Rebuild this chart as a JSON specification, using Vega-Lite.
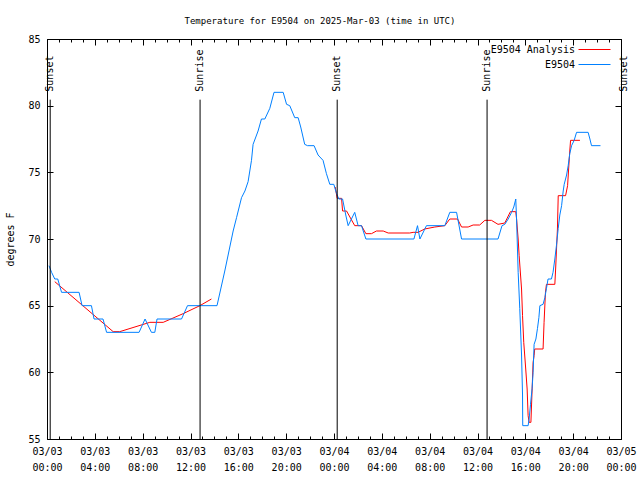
{
  "$schema": "https://vega.github.io/schema/vega-lite/v6.json",
  "width": 574,
  "height": 400,
  "autosize": {"type": "none"},
  "padding": {"left": 47, "top": 39, "right": 19, "bottom": 41},
  "background": "white",
  "title": {"text": "Temperature for E9504 on 2025-Mar-03 (time in UTC)", "frame": "group", "anchor": "middle", "dx": -14, "offset": 8},
  "config": {
    "view": {"stroke": "black", "strokeWidth": 1},
    "font": "DejaVu Sans Mono",
    "title": {"font": "DejaVu Sans Mono", "fontSize": 9, "fontWeight": "normal", "color": "black"},
    "axis": {"labelFont": "DejaVu Sans Mono", "labelFontSize": 10, "labelColor": "black", "tickColor": "black", "titleFont": "DejaVu Sans Mono", "titleFontSize": 10, "titleFontWeight": "normal", "titleColor": "black", "grid": false, "domain": false, "tickWidth": 1},
    "legend": {"orient": "none", "legendX": 542, "legendY": 5, "title": null, "symbolType": "M-3.2,0H3.2", "symbolStrokeWidth": 1, "symbolSize": 100, "labelFont": "DejaVu Sans Mono", "labelFontSize": 10, "labelColor": "black", "labelAlign": "right", "labelOffset": -25, "rowPadding": 4, "padding": 0}
  },
  "datasets": {
    "ana": [
      {"t": "2025-03-03T00:39:00Z", "v": 66.8, "s": "E9504 Analysis", "g": "a"},
      {"t": "2025-03-03T05:32:00Z", "v": 63.05, "s": "E9504 Analysis", "g": "a"},
      {"t": "2025-03-03T06:05:00Z", "v": 63.05, "s": "E9504 Analysis", "g": "a"},
      {"t": "2025-03-03T08:36:00Z", "v": 63.75, "s": "E9504 Analysis", "g": "a"},
      {"t": "2025-03-03T09:43:00Z", "v": 63.75, "s": "E9504 Analysis", "g": "a"},
      {"t": "2025-03-03T11:23:00Z", "v": 64.4, "s": "E9504 Analysis", "g": "a"},
      {"t": "2025-03-03T12:47:00Z", "v": 65.0, "s": "E9504 Analysis", "g": "a"},
      {"t": "2025-03-03T13:45:00Z", "v": 65.5, "s": "E9504 Analysis", "g": "a"},
      {"t": "2025-03-04T00:06:00Z", "v": 73.9, "s": "E9504 Analysis", "g": "b"},
      {"t": "2025-03-04T00:16:00Z", "v": 73.05, "s": "E9504 Analysis", "g": "b"},
      {"t": "2025-03-04T00:38:00Z", "v": 73.05, "s": "E9504 Analysis", "g": "b"},
      {"t": "2025-03-04T00:43:00Z", "v": 72.1, "s": "E9504 Analysis", "g": "b"},
      {"t": "2025-03-04T01:03:00Z", "v": 72.1, "s": "E9504 Analysis", "g": "b"},
      {"t": "2025-03-04T01:44:00Z", "v": 71.0, "s": "E9504 Analysis", "g": "b"},
      {"t": "2025-03-04T02:18:00Z", "v": 71.0, "s": "E9504 Analysis", "g": "b"},
      {"t": "2025-03-04T02:40:00Z", "v": 70.4, "s": "E9504 Analysis", "g": "b"},
      {"t": "2025-03-04T03:08:00Z", "v": 70.4, "s": "E9504 Analysis", "g": "b"},
      {"t": "2025-03-04T03:33:00Z", "v": 70.6, "s": "E9504 Analysis", "g": "b"},
      {"t": "2025-03-04T04:07:00Z", "v": 70.6, "s": "E9504 Analysis", "g": "b"},
      {"t": "2025-03-04T04:32:00Z", "v": 70.45, "s": "E9504 Analysis", "g": "b"},
      {"t": "2025-03-04T06:20:00Z", "v": 70.45, "s": "E9504 Analysis", "g": "b"},
      {"t": "2025-03-04T06:37:00Z", "v": 70.5, "s": "E9504 Analysis", "g": "b"},
      {"t": "2025-03-04T07:02:00Z", "v": 70.5, "s": "E9504 Analysis", "g": "b"},
      {"t": "2025-03-04T07:35:00Z", "v": 70.75, "s": "E9504 Analysis", "g": "b"},
      {"t": "2025-03-04T08:26:00Z", "v": 70.9, "s": "E9504 Analysis", "g": "b"},
      {"t": "2025-03-04T09:16:00Z", "v": 71.0, "s": "E9504 Analysis", "g": "b"},
      {"t": "2025-03-04T09:41:00Z", "v": 71.5, "s": "E9504 Analysis", "g": "b"},
      {"t": "2025-03-04T10:20:00Z", "v": 71.5, "s": "E9504 Analysis", "g": "b"},
      {"t": "2025-03-04T10:40:00Z", "v": 70.9, "s": "E9504 Analysis", "g": "b"},
      {"t": "2025-03-04T11:13:00Z", "v": 70.9, "s": "E9504 Analysis", "g": "b"},
      {"t": "2025-03-04T11:38:00Z", "v": 71.05, "s": "E9504 Analysis", "g": "b"},
      {"t": "2025-03-04T12:11:00Z", "v": 71.05, "s": "E9504 Analysis", "g": "b"},
      {"t": "2025-03-04T12:37:00Z", "v": 71.4, "s": "E9504 Analysis", "g": "b"},
      {"t": "2025-03-04T13:10:00Z", "v": 71.4, "s": "E9504 Analysis", "g": "b"},
      {"t": "2025-03-04T13:43:00Z", "v": 71.1, "s": "E9504 Analysis", "g": "b"},
      {"t": "2025-03-04T14:17:00Z", "v": 71.2, "s": "E9504 Analysis", "g": "b"},
      {"t": "2025-03-04T14:45:00Z", "v": 72.05, "s": "E9504 Analysis", "g": "b"},
      {"t": "2025-03-04T15:12:00Z", "v": 72.05, "s": "E9504 Analysis", "g": "b"},
      {"t": "2025-03-04T15:16:00Z", "v": 71.5, "s": "E9504 Analysis", "g": "b"},
      {"t": "2025-03-04T15:24:00Z", "v": 70.0, "s": "E9504 Analysis", "g": "b"},
      {"t": "2025-03-04T15:29:00Z", "v": 68.75, "s": "E9504 Analysis", "g": "b"},
      {"t": "2025-03-04T15:41:00Z", "v": 66.25, "s": "E9504 Analysis", "g": "b"},
      {"t": "2025-03-04T15:46:00Z", "v": 64.25, "s": "E9504 Analysis", "g": "b"},
      {"t": "2025-03-04T15:52:00Z", "v": 62.25, "s": "E9504 Analysis", "g": "b"},
      {"t": "2025-03-04T16:02:00Z", "v": 60.25, "s": "E9504 Analysis", "g": "b"},
      {"t": "2025-03-04T16:09:00Z", "v": 58.75, "s": "E9504 Analysis", "g": "b"},
      {"t": "2025-03-04T16:14:00Z", "v": 56.75, "s": "E9504 Analysis", "g": "b"},
      {"t": "2025-03-04T16:19:00Z", "v": 56.25, "s": "E9504 Analysis", "g": "b"},
      {"t": "2025-03-04T16:28:00Z", "v": 56.25, "s": "E9504 Analysis", "g": "b"},
      {"t": "2025-03-04T16:39:00Z", "v": 60.75, "s": "E9504 Analysis", "g": "b"},
      {"t": "2025-03-04T16:44:00Z", "v": 61.25, "s": "E9504 Analysis", "g": "b"},
      {"t": "2025-03-04T16:47:00Z", "v": 61.75, "s": "E9504 Analysis", "g": "b"},
      {"t": "2025-03-04T17:29:00Z", "v": 61.75, "s": "E9504 Analysis", "g": "b"},
      {"t": "2025-03-04T17:34:00Z", "v": 63.75, "s": "E9504 Analysis", "g": "b"},
      {"t": "2025-03-04T17:41:00Z", "v": 66.0, "s": "E9504 Analysis", "g": "b"},
      {"t": "2025-03-04T17:46:00Z", "v": 66.6, "s": "E9504 Analysis", "g": "b"},
      {"t": "2025-03-04T18:28:00Z", "v": 66.6, "s": "E9504 Analysis", "g": "b"},
      {"t": "2025-03-04T18:32:00Z", "v": 67.75, "s": "E9504 Analysis", "g": "b"},
      {"t": "2025-03-04T18:41:00Z", "v": 70.75, "s": "E9504 Analysis", "g": "b"},
      {"t": "2025-03-04T18:45:00Z", "v": 73.25, "s": "E9504 Analysis", "g": "b"},
      {"t": "2025-03-04T19:22:00Z", "v": 73.25, "s": "E9504 Analysis", "g": "b"},
      {"t": "2025-03-04T19:32:00Z", "v": 74.0, "s": "E9504 Analysis", "g": "b"},
      {"t": "2025-03-04T19:43:00Z", "v": 76.6, "s": "E9504 Analysis", "g": "b"},
      {"t": "2025-03-04T19:47:00Z", "v": 77.4, "s": "E9504 Analysis", "g": "b"},
      {"t": "2025-03-04T20:34:00Z", "v": 77.4, "s": "E9504 Analysis", "g": "b"}
    ],
    "obs": [
      {"t": "2025-03-03T00:10:00Z", "v": 68.0, "s": "E9504"},
      {"t": "2025-03-03T00:23:00Z", "v": 67.5, "s": "E9504"},
      {"t": "2025-03-03T00:39:00Z", "v": 67.0, "s": "E9504"},
      {"t": "2025-03-03T00:54:00Z", "v": 67.0, "s": "E9504"},
      {"t": "2025-03-03T01:13:00Z", "v": 66.0, "s": "E9504"},
      {"t": "2025-03-03T02:41:00Z", "v": 66.0, "s": "E9504"},
      {"t": "2025-03-03T02:56:00Z", "v": 65.0, "s": "E9504"},
      {"t": "2025-03-03T03:43:00Z", "v": 65.0, "s": "E9504"},
      {"t": "2025-03-03T03:56:00Z", "v": 64.0, "s": "E9504"},
      {"t": "2025-03-03T04:41:00Z", "v": 64.0, "s": "E9504"},
      {"t": "2025-03-03T04:59:00Z", "v": 63.0, "s": "E9504"},
      {"t": "2025-03-03T07:42:00Z", "v": 63.0, "s": "E9504"},
      {"t": "2025-03-03T08:12:00Z", "v": 64.0, "s": "E9504"},
      {"t": "2025-03-03T08:44:00Z", "v": 63.0, "s": "E9504"},
      {"t": "2025-03-03T09:01:00Z", "v": 63.0, "s": "E9504"},
      {"t": "2025-03-03T09:12:00Z", "v": 64.0, "s": "E9504"},
      {"t": "2025-03-03T11:15:00Z", "v": 64.0, "s": "E9504"},
      {"t": "2025-03-03T11:45:00Z", "v": 65.0, "s": "E9504"},
      {"t": "2025-03-03T14:13:00Z", "v": 65.0, "s": "E9504"},
      {"t": "2025-03-03T14:52:00Z", "v": 67.6, "s": "E9504"},
      {"t": "2025-03-03T15:34:00Z", "v": 70.6, "s": "E9504"},
      {"t": "2025-03-03T15:51:00Z", "v": 71.6, "s": "E9504"},
      {"t": "2025-03-03T16:16:00Z", "v": 73.1, "s": "E9504"},
      {"t": "2025-03-03T16:33:00Z", "v": 73.6, "s": "E9504"},
      {"t": "2025-03-03T16:49:00Z", "v": 74.3, "s": "E9504"},
      {"t": "2025-03-03T17:06:00Z", "v": 75.9, "s": "E9504"},
      {"t": "2025-03-03T17:14:00Z", "v": 77.1, "s": "E9504"},
      {"t": "2025-03-03T17:39:00Z", "v": 78.1, "s": "E9504"},
      {"t": "2025-03-03T17:56:00Z", "v": 79.0, "s": "E9504"},
      {"t": "2025-03-03T18:13:00Z", "v": 79.0, "s": "E9504"},
      {"t": "2025-03-03T18:38:00Z", "v": 79.8, "s": "E9504"},
      {"t": "2025-03-03T18:59:00Z", "v": 81.0, "s": "E9504"},
      {"t": "2025-03-03T19:45:00Z", "v": 81.0, "s": "E9504"},
      {"t": "2025-03-03T20:02:00Z", "v": 80.1, "s": "E9504"},
      {"t": "2025-03-03T20:18:00Z", "v": 80.0, "s": "E9504"},
      {"t": "2025-03-03T20:43:00Z", "v": 79.1, "s": "E9504"},
      {"t": "2025-03-03T21:00:00Z", "v": 79.1, "s": "E9504"},
      {"t": "2025-03-03T21:13:00Z", "v": 78.4, "s": "E9504"},
      {"t": "2025-03-03T21:33:00Z", "v": 77.1, "s": "E9504"},
      {"t": "2025-03-03T21:47:00Z", "v": 77.0, "s": "E9504"},
      {"t": "2025-03-03T22:20:00Z", "v": 77.0, "s": "E9504"},
      {"t": "2025-03-03T22:40:00Z", "v": 76.3, "s": "E9504"},
      {"t": "2025-03-03T23:05:00Z", "v": 75.9, "s": "E9504"},
      {"t": "2025-03-03T23:22:00Z", "v": 74.9, "s": "E9504"},
      {"t": "2025-03-03T23:39:00Z", "v": 74.1, "s": "E9504"},
      {"t": "2025-03-03T23:59:00Z", "v": 74.1, "s": "E9504"},
      {"t": "2025-03-04T00:13:00Z", "v": 73.4, "s": "E9504"},
      {"t": "2025-03-04T00:24:00Z", "v": 73.0, "s": "E9504"},
      {"t": "2025-03-04T00:43:00Z", "v": 73.0, "s": "E9504"},
      {"t": "2025-03-04T00:59:00Z", "v": 71.8, "s": "E9504"},
      {"t": "2025-03-04T01:11:00Z", "v": 71.0, "s": "E9504"},
      {"t": "2025-03-04T01:44:00Z", "v": 72.0, "s": "E9504"},
      {"t": "2025-03-04T02:01:00Z", "v": 71.0, "s": "E9504"},
      {"t": "2025-03-04T02:18:00Z", "v": 71.0, "s": "E9504"},
      {"t": "2025-03-04T02:40:00Z", "v": 70.0, "s": "E9504"},
      {"t": "2025-03-04T06:41:00Z", "v": 70.0, "s": "E9504"},
      {"t": "2025-03-04T06:59:00Z", "v": 71.0, "s": "E9504"},
      {"t": "2025-03-04T07:11:00Z", "v": 70.0, "s": "E9504"},
      {"t": "2025-03-04T07:44:00Z", "v": 71.0, "s": "E9504"},
      {"t": "2025-03-04T09:16:00Z", "v": 71.0, "s": "E9504"},
      {"t": "2025-03-04T09:41:00Z", "v": 72.0, "s": "E9504"},
      {"t": "2025-03-04T10:15:00Z", "v": 72.0, "s": "E9504"},
      {"t": "2025-03-04T10:40:00Z", "v": 70.0, "s": "E9504"},
      {"t": "2025-03-04T13:43:00Z", "v": 70.0, "s": "E9504"},
      {"t": "2025-03-04T14:03:00Z", "v": 71.0, "s": "E9504"},
      {"t": "2025-03-04T14:17:00Z", "v": 71.1, "s": "E9504"},
      {"t": "2025-03-04T14:34:00Z", "v": 71.5, "s": "E9504"},
      {"t": "2025-03-04T14:51:00Z", "v": 72.0, "s": "E9504"},
      {"t": "2025-03-04T15:02:00Z", "v": 72.4, "s": "E9504"},
      {"t": "2025-03-04T15:12:00Z", "v": 73.0, "s": "E9504"},
      {"t": "2025-03-04T15:16:00Z", "v": 71.5, "s": "E9504"},
      {"t": "2025-03-04T15:19:00Z", "v": 70.0, "s": "E9504"},
      {"t": "2025-03-04T15:24:00Z", "v": 67.5, "s": "E9504"},
      {"t": "2025-03-04T15:32:00Z", "v": 64.8, "s": "E9504"},
      {"t": "2025-03-04T15:41:00Z", "v": 61.3, "s": "E9504"},
      {"t": "2025-03-04T15:46:00Z", "v": 58.3, "s": "E9504"},
      {"t": "2025-03-04T15:47:00Z", "v": 56.0, "s": "E9504"},
      {"t": "2025-03-04T16:14:00Z", "v": 56.0, "s": "E9504"},
      {"t": "2025-03-04T16:19:00Z", "v": 56.5, "s": "E9504"},
      {"t": "2025-03-04T16:26:00Z", "v": 57.6, "s": "E9504"},
      {"t": "2025-03-04T16:34:00Z", "v": 58.8, "s": "E9504"},
      {"t": "2025-03-04T16:39:00Z", "v": 60.0, "s": "E9504"},
      {"t": "2025-03-04T16:44:00Z", "v": 62.1, "s": "E9504"},
      {"t": "2025-03-04T16:53:00Z", "v": 62.5, "s": "E9504"},
      {"t": "2025-03-04T17:01:00Z", "v": 63.3, "s": "E9504"},
      {"t": "2025-03-04T17:08:00Z", "v": 64.1, "s": "E9504"},
      {"t": "2025-03-04T17:13:00Z", "v": 65.0, "s": "E9504"},
      {"t": "2025-03-04T17:29:00Z", "v": 65.1, "s": "E9504"},
      {"t": "2025-03-04T17:38:00Z", "v": 65.6, "s": "E9504"},
      {"t": "2025-03-04T17:46:00Z", "v": 66.3, "s": "E9504"},
      {"t": "2025-03-04T17:54:00Z", "v": 67.0, "s": "E9504"},
      {"t": "2025-03-04T18:11:00Z", "v": 67.0, "s": "E9504"},
      {"t": "2025-03-04T18:19:00Z", "v": 67.5, "s": "E9504"},
      {"t": "2025-03-04T18:28:00Z", "v": 68.5, "s": "E9504"},
      {"t": "2025-03-04T18:36:00Z", "v": 69.5, "s": "E9504"},
      {"t": "2025-03-04T18:45:00Z", "v": 70.8, "s": "E9504"},
      {"t": "2025-03-04T18:53:00Z", "v": 71.8, "s": "E9504"},
      {"t": "2025-03-04T19:02:00Z", "v": 72.5, "s": "E9504"},
      {"t": "2025-03-04T19:10:00Z", "v": 73.6, "s": "E9504"},
      {"t": "2025-03-04T19:15:00Z", "v": 74.1, "s": "E9504"},
      {"t": "2025-03-04T19:27:00Z", "v": 74.8, "s": "E9504"},
      {"t": "2025-03-04T19:35:00Z", "v": 75.5, "s": "E9504"},
      {"t": "2025-03-04T19:43:00Z", "v": 76.4, "s": "E9504"},
      {"t": "2025-03-04T19:52:00Z", "v": 77.0, "s": "E9504"},
      {"t": "2025-03-04T20:05:00Z", "v": 77.4, "s": "E9504"},
      {"t": "2025-03-04T20:17:00Z", "v": 78.0, "s": "E9504"},
      {"t": "2025-03-04T21:15:00Z", "v": 78.0, "s": "E9504"},
      {"t": "2025-03-04T21:24:00Z", "v": 77.5, "s": "E9504"},
      {"t": "2025-03-04T21:32:00Z", "v": 77.0, "s": "E9504"},
      {"t": "2025-03-04T22:17:00Z", "v": 77.0, "s": "E9504"}
    ],
    "sun": [
      {"t": "2025-03-03T00:16:00Z", "label": "Sunset"},
      {"t": "2025-03-03T12:48:00Z", "label": "Sunrise"},
      {"t": "2025-03-04T00:16:00Z", "label": "Sunset"},
      {"t": "2025-03-04T12:48:00Z", "label": "Sunrise"},
      {"t": "2025-03-05T00:17:00Z", "label": "Sunset"}
    ]
  },
  "layer": [
    {
      "data": {"name": "ana"},
      "mark": {"type": "line", "strokeWidth": 1},
      "encoding": {
        "x": {"field": "t", "type": "temporal",
          "scale": {"type": "utc", "domain": [1740960000000, 1741132800000], "nice": false},
          "axis": {"orient": "bottom", "title": null, "tickSize": -6, "labelPadding": 13, "labelOverlap": false, "labelBaseline": "top", "labelLineHeight": 16, "labelFlush": false,
            "values": [1740960000000, 1740974400000, 1740988800000, 1741003200000, 1741017600000, 1741032000000, 1741046400000, 1741060800000, 1741075200000, 1741089600000, 1741104000000, 1741118400000, 1741132800000],
            "labelExpr": "[utcFormat(datum.value, '%m/%d'), utcFormat(datum.value, '%H:%M')]"}},
        "y": {"field": "v", "type": "quantitative",
          "scale": {"domain": [55, 85], "nice": false, "zero": false},
          "axis": {"orient": "left", "title": "degrees F", "values": [55, 60, 65, 70, 75, 80, 85], "tickSize": -6, "labelPadding": 13, "titlePadding": 12, "labelFlush": false}},
        "color": {"field": "s", "type": "nominal",
          "scale": {"domain": ["E9504 Analysis", "E9504"], "range": ["#ff0000", "#0080ff"]},
          "legend": {"title": null, "values": ["E9504 Analysis", "E9504"]}},
        "detail": {"field": "g", "type": "nominal"}
      }
    },
    {
      "data": {"name": "obs"},
      "mark": {"type": "line", "strokeWidth": 1},
      "encoding": {
        "x": {"field": "t", "type": "temporal",
          "scale": {"type": "utc", "domain": [1740960000000, 1741132800000], "nice": false},
          "axis": {"orient": "bottom", "title": null, "labels": false, "tickSize": -3,
            "values": [1740960000000, 1740963600000, 1740967200000, 1740970800000, 1740974400000, 1740978000000, 1740981600000, 1740985200000, 1740988800000, 1740992400000, 1740996000000, 1740999600000, 1741003200000, 1741006800000, 1741010400000, 1741014000000, 1741017600000, 1741021200000, 1741024800000, 1741028400000, 1741032000000, 1741035600000, 1741039200000, 1741042800000, 1741046400000, 1741050000000, 1741053600000, 1741057200000, 1741060800000, 1741064400000, 1741068000000, 1741071600000, 1741075200000, 1741078800000, 1741082400000, 1741086000000, 1741089600000, 1741093200000, 1741096800000, 1741100400000, 1741104000000, 1741107600000, 1741111200000, 1741114800000, 1741118400000, 1741122000000, 1741125600000, 1741129200000, 1741132800000]}},
        "y": {"field": "v", "type": "quantitative", "scale": {"domain": [55, 85], "nice": false, "zero": false}, "axis": null},
        "color": {"field": "s", "type": "nominal",
          "scale": {"domain": ["E9504 Analysis", "E9504"], "range": ["#ff0000", "#0080ff"]},
          "legend": null}
      }
    },
    {
      "data": {"name": "sun"},
      "mark": {"type": "rule", "color": "black", "strokeWidth": 1, "clip": true},
      "encoding": {
        "x": {"field": "t", "type": "temporal",
          "scale": {"type": "utc", "domain": [1740960000000, 1741132800000], "nice": false},
          "axis": {"orient": "top", "title": null, "labels": false, "tickSize": -6,
            "values": [1740960000000, 1740974400000, 1740988800000, 1741003200000, 1741017600000, 1741032000000, 1741046400000, 1741060800000, 1741075200000, 1741089600000, 1741104000000, 1741118400000, 1741132800000]}},
        "y": {"datum": 80.45, "type": "quantitative", "scale": {"domain": [55, 85], "nice": false, "zero": false},
          "axis": {"orient": "right", "title": null, "labels": false, "tickSize": -6, "values": [55, 60, 65, 70, 75, 80, 85]}},
        "y2": {"datum": 55}
      }
    },
    {
      "data": {"name": "sun"},
      "mark": {"type": "text", "angle": 270, "align": "left", "baseline": "middle", "font": "DejaVu Sans Mono", "fontSize": 10, "color": "black"},
      "encoding": {
        "x": {"field": "t", "type": "temporal",
          "scale": {"type": "utc", "domain": [1740960000000, 1741132800000], "nice": false},
          "axis": {"orient": "top", "title": null, "labels": false, "tickSize": -3,
            "values": [1740960000000, 1740963600000, 1740967200000, 1740970800000, 1740974400000, 1740978000000, 1740981600000, 1740985200000, 1740988800000, 1740992400000, 1740996000000, 1740999600000, 1741003200000, 1741006800000, 1741010400000, 1741014000000, 1741017600000, 1741021200000, 1741024800000, 1741028400000, 1741032000000, 1741035600000, 1741039200000, 1741042800000, 1741046400000, 1741050000000, 1741053600000, 1741057200000, 1741060800000, 1741064400000, 1741068000000, 1741071600000, 1741075200000, 1741078800000, 1741082400000, 1741086000000, 1741089600000, 1741093200000, 1741096800000, 1741100400000, 1741104000000, 1741107600000, 1741111200000, 1741114800000, 1741118400000, 1741122000000, 1741125600000, 1741129200000, 1741132800000]}},
        "y": {"datum": 81.05, "type": "quantitative", "scale": {"domain": [55, 85], "nice": false, "zero": false}, "axis": null},
        "text": {"field": "label"}
      }
    }
  ],
  "resolve": {"axis": {"x": "independent", "y": "independent"}}
}
